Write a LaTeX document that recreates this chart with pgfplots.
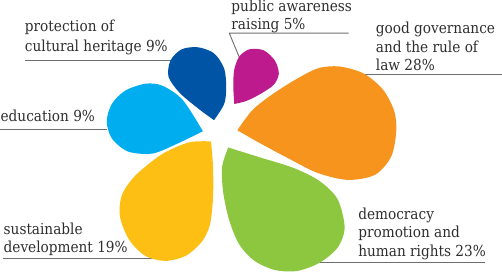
\documentclass[border=0pt]{standalone}
\usepackage{pgfplots}
\pgfplotsset{compat=1.18}
\usepackage{fontspec}
\setmainfont{DejaVu Serif Condensed}
\definecolor{cdblue}{HTML}{0054A6}
\definecolor{cmag}{HTML}{BD1A8D}
\definecolor{corange}{HTML}{F7941E}
\definecolor{cgreen}{HTML}{8DC63F}
\definecolor{cyellow}{HTML}{FDBF14}
\definecolor{clblue}{HTML}{00AEEF}
\definecolor{ctext}{HTML}{2E2E2E}
\definecolor{cline}{HTML}{6D6E71}
\begin{document}
\begin{tikzpicture}
\begin{axis}[width=502pt, height=280pt, scale only axis,
  xmin=0, xmax=502, ymin=0, ymax=280, y dir=reverse,
  hide axis, clip=false,
  every axis plot/.append style={line join=round}]
% leader lines
\addplot[cline, line width=0.9pt] coordinates {(31,70) (175,70)};
\addplot[cline, line width=0.9pt] coordinates {(7,138) (112,138)};
\addplot[cline, line width=0.9pt] coordinates {(351,43) (233,43) (243,67)};
\addplot[cline, line width=0.9pt] coordinates {(367,84) (502,84)};
\addplot[cline, line width=0.9pt] coordinates {(323,270) (486,270)};
\addplot[cline, line width=0.9pt] coordinates {(10,266) (157,266)};
% petals
\addplot[fill=cdblue, draw=none, smooth] coordinates {
 (218,129) (228,113) (230,97) (228,78) (218,63) (202,57) (186,59) (175,70) (173,86) (184,102) (203,118) (218,129)};
\addplot[fill=cmag, draw=none, smooth] coordinates {
 (238,113) (237,95) (238,79) (243,66) (253,59) (267,60) (278,70) (282,83) (277,94) (264,103) (250,110) (238,113)};
\addplot[fill=corange, draw=none, smooth] coordinates {
 (241,139) (255,120) (272,106) (295,91) (320,78) (342,76) (366,83) (385,99) (396,120) (398,140) (393,165) (377,183) (350,188) (320,181) (290,166) (262,151) (241,139)};
\addplot[fill=cgreen, draw=none, smooth] coordinates {
 (232,156) (226,175) (227,200) (233,228) (243,252) (258,268) (278,277) (300,278) (322,270) (340,255) (347,235) (340,207) (322,189) (296,176) (264,166) (232,156)};
\addplot[fill=cyellow, draw=none, smooth] coordinates {
 (215,150) (217,175) (217,205) (214,232) (206,249) (190,263) (170,268) (150,263) (134,247) (125,224) (127,203) (140,184) (166,163) (193,151) (215,150)};
\addplot[fill=clblue, draw=none, smooth] coordinates {
 (207,140) (187,109) (167,95) (150,93) (130,100) (117,113) (112,130) (117,147) (133,160) (157,162) (180,153) (207,140)};
% labels
\begin{scope}[every node/.style={anchor=base west, inner sep=0pt, text=ctext, font=\fontsize{15}{19}\selectfont}]
\node at (axis cs:31,41.7) {protection of};
\node at (axis cs:31,60.7) {cultural heritage 9\%};
\node at (axis cs:7,130.7) {education 9\%};
\node at (axis cs:235,21.7) {public awareness};
\node at (axis cs:235,39.8) {raising 5\%};
\node at (axis cs:377.7,43.3) {good governance};
\node at (axis cs:377.7,61.7) {and the rule of};
\node at (axis cs:377.7,80) {law 28\%};
\node at (axis cs:360.3,227.3) {democracy};
\node at (axis cs:360.3,245) {promotion and};
\node at (axis cs:360.3,263.3) {human rights 23\%};
\node at (axis cs:10,241.7) {sustainable};
\node at (axis cs:10,259.3) {development 19\%};
\end{scope}
\end{axis}
\end{tikzpicture}
\end{document}
